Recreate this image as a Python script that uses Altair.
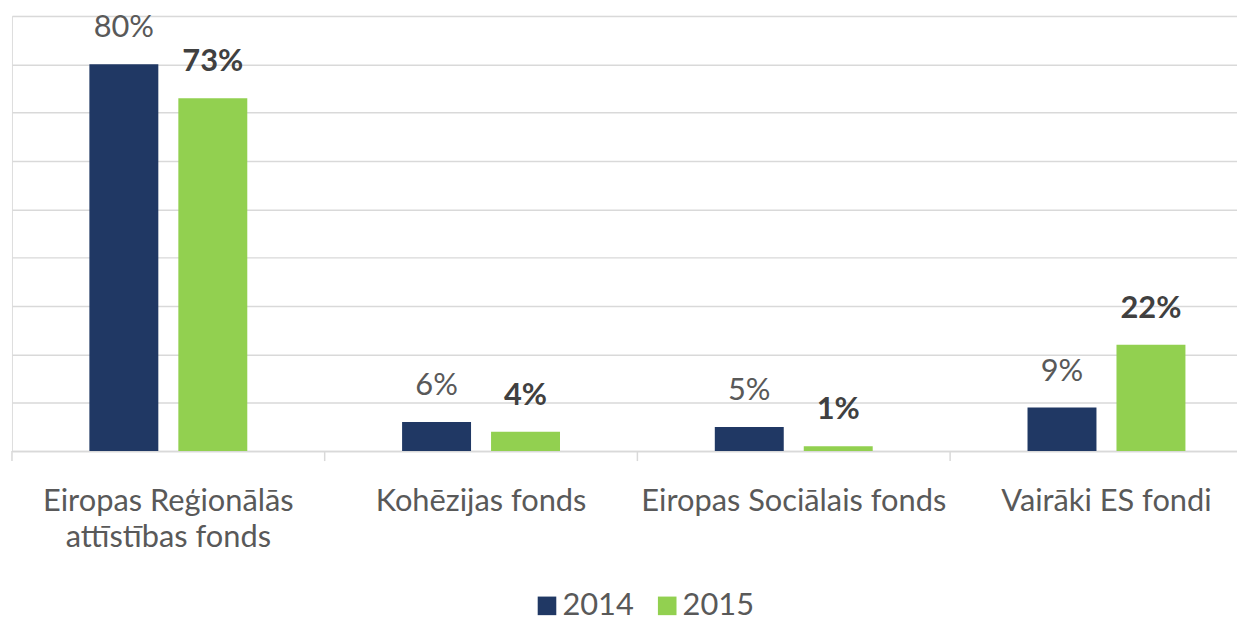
import altair as alt
import pandas as pd

categories = ["Eiropas Reģionālās attīstības fonds", "Kohēzijas fonds",
              "Eiropas Sociālais fonds", "Vairāki ES fondi"]
years = ["2014", "2015"]
v2014 = [80, 6, 5, 9]
v2015 = [73, 4, 1, 22]
colors = ["#203864", "#92D050"]

rows = []
for c, a, b in zip(categories, v2014, v2015):
    rows.append({"cat": c, "year": "2014", "val": a, "lbl": f"{a}%"})
    rows.append({"cat": c, "year": "2015", "val": b, "lbl": f"{b}%"})
df = pd.DataFrame(rows)

FONT = "Lato"
FS = 31
W, H = 1233, 438

xscale = alt.Scale(domain=categories, range=[0, 1259], paddingInner=0, paddingOuter=0, round=False)
xoff = alt.XOffset("year:N", scale=alt.Scale(domain=years, paddingInner=0.225, paddingOuter=0.87))
yscale = alt.Scale(domain=[0, 90], nice=False)

x_enc = alt.X("cat:N", scale=xscale, sort=categories, title=None,
              axis=alt.Axis(ticks=False, domainColor="#d9d9d9", domainWidth=1.5,
                            labelAngle=0, labelFont=FONT, labelFontSize=FS, labelLimit=0,
                            labelColor="#595959", labelPadding=36, labelLineHeight=36,
                            labelBaseline="top",
                            labelExpr="datum.label == 'Eiropas Reģionālās attīstības fonds' ? ['Eiropas Reģionālās', 'attīstības fonds'] : datum.label"))

bars = alt.Chart(df).mark_bar().encode(
    x=x_enc,
    xOffset=xoff,
    y=alt.Y("val:Q", scale=yscale, title=None,
            axis=alt.Axis(values=list(range(0, 91, 10)), labels=False, ticks=False,
                          domain=False, grid=True, gridColor="#d9d9d9", gridWidth=1.5)),
    color=alt.Color("year:N", scale=alt.Scale(domain=years, range=colors),
                    legend=alt.Legend(title=None, orient="none", direction="horizontal",
                                      legendX=523, legendY=578, symbolType="square",
                                      symbolSize=350, symbolStrokeWidth=0, symbolOpacity=1,
                                      labelFont=FONT, labelFontSize=FS, labelColor="#595959",
                                      labelOffset=0, columnPadding=18, padding=0)),
)

t14 = alt.Chart(df).transform_filter(alt.datum.year == "2014").mark_text(
    font=FONT, fontSize=FS, color="#595959", baseline="bottom", dy=-20
).encode(x=alt.X("cat:N", scale=xscale, sort=categories), xOffset=xoff,
         y=alt.Y("val:Q", scale=yscale), text="lbl:N")

t15 = alt.Chart(df).transform_filter(alt.datum.year == "2015").mark_text(
    font=FONT, fontSize=FS, fontWeight="bold", color="#404040", baseline="bottom", dy=-20
).encode(x=alt.X("cat:N", scale=xscale, sort=categories), xOffset=xoff,
         y=alt.Y("val:Q", scale=yscale), text="lbl:N")

tick_df = pd.DataFrame({"cat": categories})
ticks = alt.Chart(tick_df).mark_rule(color="#d9d9d9", strokeWidth=1.5).encode(
    x=alt.X("cat:N", scale=xscale, sort=categories, bandPosition=0),
    y=alt.value(H), y2=alt.value(H + 10),
)

chart = alt.layer(bars, t14, t15, ticks).properties(
    width=W, height=H,
    autosize=alt.AutoSizeParams(type="none"),
    padding={"left": 4, "top": 6, "right": 0, "bottom": 172},
).configure_view(stroke=None).configure(background="white")

chart.save("out.html", embed_options={"renderer": "svg", "actions": False})
